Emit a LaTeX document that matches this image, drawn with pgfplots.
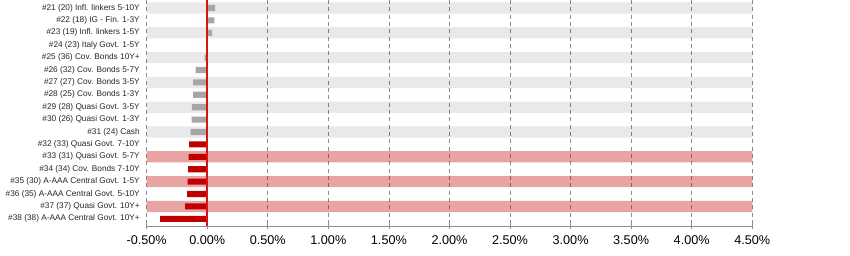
\documentclass[border=0pt]{standalone}
\usepackage{fontspec}
\setmainfont{Liberation Sans}
\usepackage{pgfplots}
\pgfplotsset{compat=1.18}
\definecolor{bargray}{HTML}{A6A6A6}
\definecolor{barred}{HTML}{C00000}
\definecolor{zerored}{RGB}{215,20,20}
\definecolor{gridgray}{HTML}{8C8C8C}
\begin{document}
\begin{tikzpicture}
\path[use as bounding box] (0,0) rectangle (637.5pt,-191.25pt);
\begin{axis}[
  scale only axis, width=454.2pt, height=169.5pt,
  at={(110pt,-169.5pt)}, anchor=south west,
  xmin=-0.5, xmax=4.5, ymin=0.355, ymax=18.58, y dir=reverse,
  xtick={-0.5,0,0.5,1,1.5,2,2.5,3,3.5,4,4.5},
  xticklabels={-0.50\%,0.00\%,0.50\%,1.00\%,1.50\%,2.00\%,2.50\%,3.00\%,3.50\%,4.00\%,4.50\%},
  ytick={1,...,18},
  yticklabels={
    \#21 (20) Infl. linkers 5-10Y,
    \#22 (18) IG - Fin. 1-3Y,
    \#23 (19) Infl. linkers 1-5Y,
    \#24 (23) Italy Govt. 1-5Y,
    \#25 (36) Cov. Bonds 10Y+,
    \#26 (32) Cov. Bonds 5-7Y,
    \#27 (27) Cov. Bonds 3-5Y,
    \#28 (25) Cov. Bonds 1-3Y,
    \#29 (28) Quasi Govt. 3-5Y,
    \#30 (26) Quasi Govt. 1-3Y,
    \#31 (24) Cash,
    \#32 (33) Quasi Govt. 7-10Y,
    \#33 (31) Quasi Govt. 5-7Y,
    \#34 (34) Cov. Bonds 7-10Y,
    \#35 (30) A-AAA Central Govt. 1-5Y,
    \#36 (35) A-AAA Central Govt. 5-10Y,
    \#37 (37) Quasi Govt. 10Y+,
    \#38 (38) A-AAA Central Govt. 10Y+},
  axis x line*=bottom, axis y line*=left,
  y axis line style={draw=none},
  x axis line style={draw=gridgray, line width=0.6pt, -},
  ytick style={draw=none},
  xtick align=center, major tick length=5pt,
  xtick style={draw=gridgray, line width=0.6pt},
  xmajorgrids,
  major x grid style={gridgray, dash pattern=on 3pt off 2.5pt, line width=0.6pt},
  x tick label style={font=\fontsize{9.5}{11}\selectfont, text=black, yshift=-1.5pt},
  y tick label style={font=\fontsize{6.2}{7}\selectfont, text=black!85, inner sep=0pt, xshift=-5pt},
]
% background bands (translucent so the dashed grid shows through)
\addplot[xbar, bar shift=0pt, bar width=8.4pt, fill=black, fill opacity=0.085, draw=none]
  coordinates {(4.5,1) (4.5,3) (4.5,5) (4.5,7) (4.5,9) (4.5,11)};
\addplot[xbar, bar shift=0pt, bar width=8.4pt, fill=black, fill opacity=0.085, draw=none]
  coordinates {(-0.5,1) (-0.5,3) (-0.5,5) (-0.5,7) (-0.5,9) (-0.5,11)};
\addplot[xbar, bar shift=0pt, bar width=8.4pt, fill=barred, fill opacity=0.36, draw=none]
  coordinates {(4.5,13) (4.5,15) (4.5,17)};
\addplot[xbar, bar shift=0pt, bar width=8.4pt, fill=barred, fill opacity=0.36, draw=none]
  coordinates {(-0.5,13) (-0.5,15) (-0.5,17)};
% bars
\addplot[xbar, bar shift=0pt, bar width=4.6pt, fill=bargray, draw=none]
  coordinates {(0.066,1) (0.058,2) (0.041,3) (0.004,4) (-0.021,5) (-0.096,6)
               (-0.116,7) (-0.116,8) (-0.126,9) (-0.129,10) (-0.137,11)};
\addplot[xbar, bar shift=0pt, bar width=4.6pt, fill=barred, draw=none]
  coordinates {(-0.149,12) (-0.154,13) (-0.157,14) (-0.162,15) (-0.165,16) (-0.182,17) (-0.388,18)};
% zero line
\addplot[draw=zerored, line width=1.3pt, mark=none] coordinates {(0,0.355) (0,18.58)};
\end{axis}
\end{tikzpicture}
\end{document}
